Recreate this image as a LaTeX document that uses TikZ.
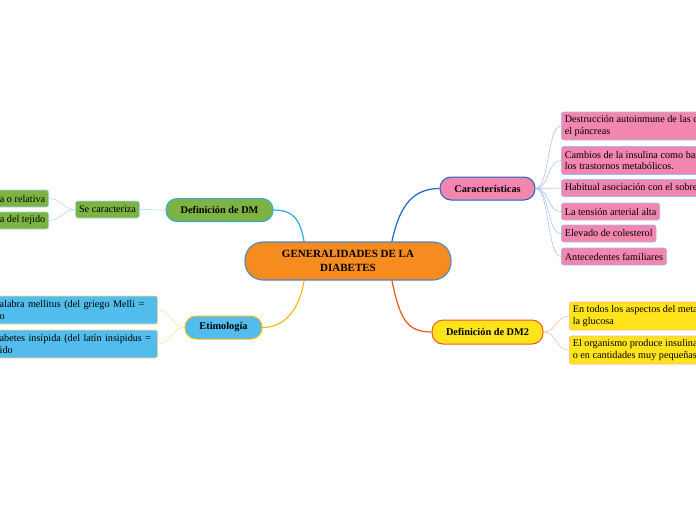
\documentclass[tikz,border=0pt]{standalone}
\usepackage{fontspec}
\setmainfont{Liberation Serif}
\usepackage{xcolor}
\usepackage{tikz}
\definecolor{hubfill}{HTML}{F68B1F}
\definecolor{hubline}{HTML}{4A86C5}
\definecolor{dmfill}{HTML}{7CB342}
\definecolor{dmline}{HTML}{29ABE2}
\definecolor{dmtwig}{HTML}{9ED8F2}
\definecolor{etfill}{HTML}{52BDEC}
\definecolor{etline}{HTML}{FDB913}
\definecolor{ettwig}{HTML}{FFD98A}
\definecolor{carfill}{HTML}{F286AE}
\definecolor{carline}{HTML}{1C63C8}
\definecolor{cartwig}{HTML}{9DBDF2}
\definecolor{dmtwofill}{HTML}{FFE41C}
\definecolor{dmtwoline}{HTML}{F4511E}
\definecolor{dmtwotwig}{HTML}{FFB59A}

\begin{document}
\begin{tikzpicture}[x=1pt,y=-1pt,
  hub/.style={draw=hubline,fill=hubfill,line width=1.1pt,rounded corners=18pt,
    minimum width=206pt,minimum height=38pt,align=center,
    font=\bfseries\fontsize{11}{14}\selectfont},
  topic/.style={line width=1pt,rounded corners=11pt,minimum height=23pt,
    font=\bfseries\fontsize{10.3}{12}\selectfont},
  leaf/.style={line width=0.6pt,rounded corners=2.5pt,align=left,inner sep=3.5pt,
    minimum height=17pt,font=\fontsize{10.2}{11.2}\selectfont},
  branch/.style={line width=1.2pt},
  twig/.style={line width=0.5pt}]
  \useasboundingbox (0,0) rectangle (696,520);
  \clip (0,0) rectangle (696,520);

  % centre
  \node[hub] (gen) at (348,261) {GENERALIDADES DE LA\\DIABETES};

  % topics
  \node[topic,draw=dmline,fill=dmfill,minimum width=107pt] (dm) at (219.5,210) {Definición de DM};
  \node[topic,draw=etline,fill=etfill,minimum width=77pt] (etim) at (223.5,327.5) {Etimología};
  \node[topic,draw=carline,fill=carfill,minimum width=95pt] (car) at (487.5,188.5) {Características};
  \node[topic,draw=dmtwoline,fill=dmtwofill,minimum width=111pt,minimum height=24pt] (dmtwo) at (487.5,332) {Definición de DM2};

  \draw[branch,dmline] (dm.east) .. controls +(22,0) and +(-4,-20) .. (gen.156);
  \draw[branch,etline] (gen.204) .. controls +(-4,25) and +(25,0) .. (etim.east);
  \draw[branch,carline] (gen.24) .. controls +(8,-38) and +(-25,0) .. (car.west);
  \draw[branch,dmtwoline] (gen.336) .. controls +(8,38) and +(-25,0) .. (dmtwo.west);

  % Definición de DM
  \node[leaf,draw=dmtwig,fill=dmfill] (sec) at (107.5,209.5) {Se caracteriza};
  \draw[twig,dmtwig] (sec.east) -- (dm.west);
  \node[leaf,draw=dmtwig,fill=dmfill,anchor=east] (defic) at (49,198.5) {Deficiencia de insulina absoluta o relativa};
  \node[leaf,draw=dmtwig,fill=dmfill,anchor=east] (resis) at (49,220.5) {Resistencia del tejido};
  \foreach \k in {defic,resis}
    \draw[twig,dmtwig] (sec.west) .. controls +(-12,0) and +(12,0) .. (\k.east);

  % Etimología
  \node[leaf,draw=ettwig,fill=etfill,anchor=east,text width=154.5pt,minimum height=28pt] (melli) at (158,310) {alabra mellitus (del griego Melli =\\o};
  \node[leaf,draw=ettwig,fill=etfill,anchor=east,text width=154.5pt,minimum height=28pt] (insip) at (158,344) {abetes insípida (del latín insipidus =\\ido};
  \foreach \k in {melli,insip}
    \draw[twig,ettwig] (etim.west) .. controls +(-13,0) and +(13,0) .. (\k.east);

  % Características
  \node[leaf,draw=cartwig,fill=carfill,anchor=west,minimum height=28pt] (c1) at (561,126) {Destrucción autoinmune de las células beta en\\el páncreas};
  \node[leaf,draw=cartwig,fill=carfill,anchor=west,minimum height=28pt] (c2) at (561,160.5) {Cambios de la insulina como base de\\los trastornos metabólicos.};
  \node[leaf,draw=cartwig,fill=carfill,anchor=west] (c3) at (561,188) {Habitual asociación con el sobrepeso};
  \node[leaf,draw=cartwig,fill=carfill,anchor=west] (c4) at (561,211.5) {La tensión arterial alta};
  \node[leaf,draw=cartwig,fill=carfill,anchor=west] (c5) at (561,233.5) {Elevado de colesterol};
  \node[leaf,draw=cartwig,fill=carfill,anchor=west] (c6) at (561,256.5) {Antecedentes familiares};
  \foreach \k in {c1,c2,c3,c4,c5,c6}
    \draw[twig,cartwig] (car.east) .. controls +(14,0) and +(-14,0) .. (\k.west);

  % Definición de DM2
  \node[leaf,draw=dmtwotwig,fill=dmtwofill,anchor=west,minimum height=28pt] (m1) at (569,316) {En todos los aspectos del metabolismo de\\la glucosa};
  \node[leaf,draw=dmtwotwig,fill=dmtwofill,anchor=west,minimum height=28pt] (m2) at (569,350) {El organismo produce insulina insuficiente\\o en cantidades muy pequeñas};
  \foreach \k in {m1,m2}
    \draw[twig,dmtwotwig] (dmtwo.east) .. controls +(13,0) and +(-13,0) .. (\k.west);
\end{tikzpicture}
\end{document}
